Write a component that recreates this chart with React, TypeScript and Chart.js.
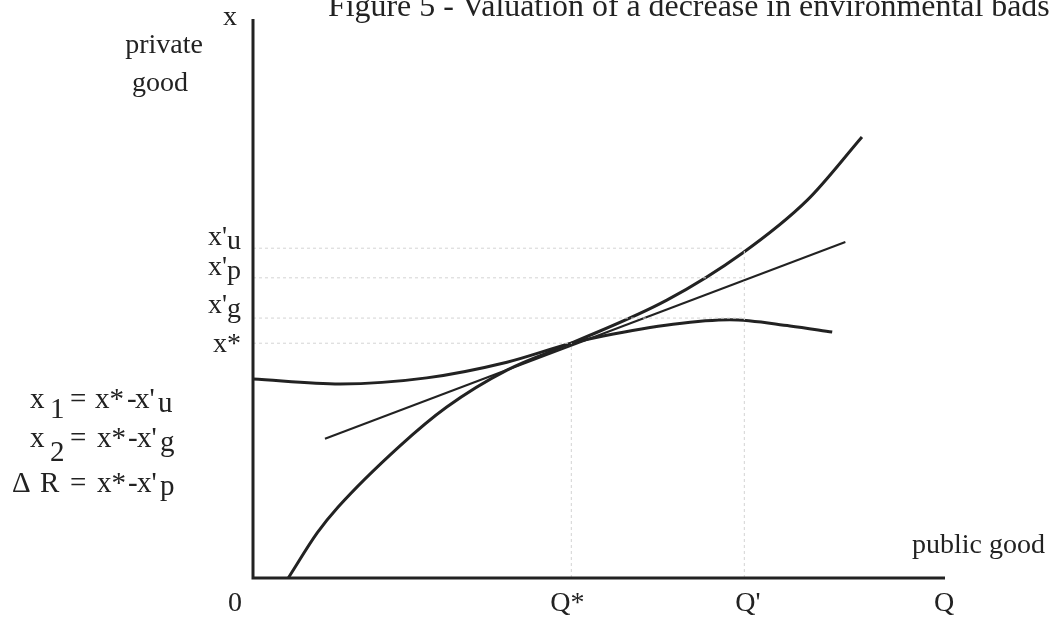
import React, { useEffect, useRef } from "react";
import { Chart, registerables } from "chart.js";

Chart.register(...registerables);

// ---- data (public good Q on x, private good x on y) ----
const Q_STAR = 4.6;
const Q_PRIME = 7.1;
const Q_MAX = 10;
const X_MAX = 10;

const steepQ = [0.51, 0.93, 1.23, 2.12, 2.8, 3.67, 4.6, 5.98, 7.07, 8.01, 8.8];
const steepX = [0, 0.81, 1.27, 2.36, 3.06, 3.72, 4.2, 4.97, 5.81, 6.76, 7.89];

const flatQ = [0, 1.26, 2.51, 3.67, 4.6, 5.06, 6.07, 6.89, 7.76, 8.37];
const flatX = [3.56, 3.47, 3.58, 3.86, 4.2, 4.33, 4.54, 4.62, 4.51, 4.4];

const tangentQ = [1.04, 8.56];
const tangentX = [2.49, 6.01];

const xTickValues = [0, Q_STAR, Q_PRIME, Q_MAX];
const xTickLabels = [["0", ""], ["Q", "*"], ["Q", "'"], ["Q", ""]];

const yTickValues = [5.9, 5.37, 4.65, 4.2];
const yTickLabels = [["x'", "u"], ["x'", "p"], ["x'", "g"], ["x*", ""]];
const yGuideEnds = [Q_PRIME, Q_PRIME, Q_PRIME, Q_STAR];

const TITLE = "Figure 5 - Valuation of a decrease in environmental bads";

const FONT = "'Liberation Serif', 'DejaVu Serif', serif";
const INK = "#222";

const pts = (xs: number[], ys: number[]) => xs.map((x, i) => ({ x, y: ys[i] }));

const textPlugin = {
  id: "econText",
  afterDatasetsDraw(chart: any) {
    const ctx = chart.ctx as CanvasRenderingContext2D;
    const xs = chart.scales.x;
    const ys = chart.scales.y;
    const x0 = xs.getPixelForValue(0);
    const y0 = ys.getPixelForValue(0);
    ctx.save();
    // axes
    ctx.strokeStyle = INK;
    ctx.lineWidth = 3;
    ctx.lineCap = "butt";
    ctx.beginPath();
    ctx.moveTo(x0, ys.getPixelForValue(X_MAX));
    ctx.lineTo(x0, y0);
    ctx.lineTo(xs.getPixelForValue(Q_MAX), y0);
    ctx.stroke();

    ctx.fillStyle = INK;
    ctx.textBaseline = "alphabetic";
    const f = (s: number) => `${s}px ${FONT}`;

    // title
    ctx.font = f(31.9);
    ctx.textAlign = "left";
    ctx.fillText(TITLE, 328, 16);

    // axis names
    ctx.font = f(28);
    ctx.textAlign = "center";
    ctx.fillText("x", x0 - 23, 25);
    ctx.fillText("private", 164, 53);
    ctx.fillText("good", 160, 91);
    ctx.textAlign = "right";
    ctx.fillText("public good", 1045, 553);

    // y tick labels
    const yDy = [-3, -3, -5, 9];
    yTickValues.forEach((v, i) => {
      const py = ys.getPixelForValue(v) + yDy[i];
      const [main, sub] = yTickLabels[i];
      ctx.font = f(28);
      const wm = ctx.measureText(main).width;
      const ws = sub ? ctx.measureText(sub).width : 0;
      const right = x0 - 12;
      ctx.textAlign = "left";
      ctx.fillText(main, right - ws - wm, py);
      if (sub) ctx.fillText(sub, right - ws, py + 4);
    });

    // x tick labels
    const xDx = [-18, -11, 1, -1];
    xTickValues.forEach((v, i) => {
      const px = xs.getPixelForValue(v) + xDx[i];
      const [main, sup] = xTickLabels[i];
      ctx.font = f(28);
      const wm = ctx.measureText(main).width;
      ctx.textAlign = "left";
      ctx.fillText(main, px - wm / 2, 611);
      if (sup) ctx.fillText(sup, px + wm / 2, 611);
    });

    // equations
    ctx.font = f(29);
    ctx.textAlign = "left";
    const run = (items: [string, number, number][], base: number) => {
      items.forEach(([t, x, dy]) => ctx.fillText(t, x, base + dy));
    };
    run([["x", 30, 0], ["1", 50, 10], ["=", 70, 0], ["x*", 95, 0], ["-", 127, 0], ["x'", 135, 0], ["u", 158, 4]], 408);
    run([["x", 30, 0], ["2", 50, 14], ["=", 70, 0], ["x*", 97, 0], ["-", 128, 0], ["x'", 137, 0], ["g", 160, 4]], 447);
    run([["Δ", 12, 0], ["R", 40, 0], ["=", 70, 0], ["x*", 97, 0], ["-", 128, 0], ["x'", 137, 0], ["p", 160, 3]], 492);
    ctx.restore();
  },
};

export default function App() {
  const ref = useRef<HTMLCanvasElement | null>(null);
  useEffect(() => {
    if (!ref.current) return;
    const guide = {
      borderColor: "#d4d4d4",
      borderWidth: 1,
      borderDash: [3, 3],
      pointRadius: 0,
      tension: 0,
      fill: false,
    };
    const hGuides = yTickValues.map((v, i) => ({
      ...guide,
      data: [{ x: 0, y: v }, { x: yGuideEnds[i], y: v }],
    }));
    const vGuides = [
      { ...guide, data: [{ x: Q_STAR, y: 0 }, { x: Q_STAR, y: yTickValues[3] }] },
      { ...guide, data: [{ x: Q_PRIME, y: 0 }, { x: Q_PRIME, y: yTickValues[0] }] },
    ];
    const curve = (xs: number[], ys: number[], w: number) => ({
      data: pts(xs, ys),
      borderColor: INK,
      borderWidth: w,
      pointRadius: 0,
      cubicInterpolationMode: "monotone" as const,
      fill: false,
      clip: false as any,
    });
    const chart = new Chart(ref.current, {
      type: "line",
      data: {
        datasets: [
          ...hGuides,
          ...vGuides,
          curve(steepQ, steepX, 3),
          curve(flatQ, flatX, 3),
          { ...curve(tangentQ, tangentX, 2), cubicInterpolationMode: "default" as const, tension: 0 },
        ] as any,
      },
      options: {
        animation: false,
        responsive: false,
        devicePixelRatio: 1,
        layout: { padding: { left: 253, right: 111, top: 19, bottom: 44 } },
        plugins: { legend: { display: false }, tooltip: { enabled: false }, title: { display: false } },
        scales: {
          x: { type: "linear", min: 0, max: Q_MAX, display: false },
          y: { type: "linear", min: 0, max: X_MAX, display: false },
        },
      },
      plugins: [textPlugin],
    });
    return () => chart.destroy();
  }, []);
  return (
    <div style={{ position: "fixed", left: 0, top: 0, width: 1056, height: 622, background: "#fff" }}>
      <canvas ref={ref} width={1056} height={622} style={{ width: 1056, height: 622, display: "block" }} />
    </div>
  );
}
